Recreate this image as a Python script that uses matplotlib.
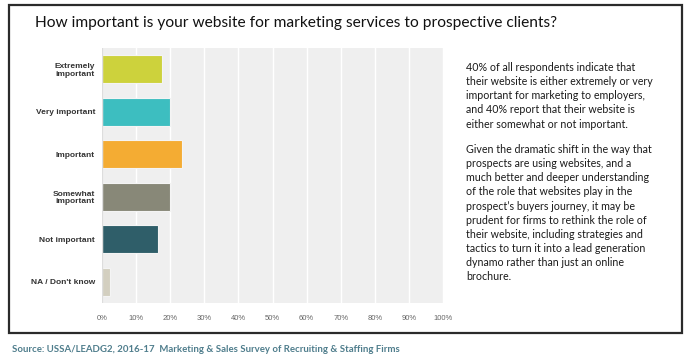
import numpy as np
import matplotlib.pyplot as plt
from matplotlib.patches import Rectangle

# survey answers, top to bottom
categories = ["Extremely\nimportant", "Very important", "Important",
              "Somewhat\nimportant", "Not important", "NA / Don't know"]
shares = [17.7, 20.0, 23.5, 20.0, 16.5, 2.3]
bar_colors = ["#cdd23c", "#3dbec0", "#f4ac33", "#888878", "#2f5e69", "#d3cfc0"]
tick_pos = list(range(0, 101, 10))
tick_labels = [f"{t}%" for t in tick_pos]

title = "How important is your website for marketing services to prospective clients?"
para1 = ("40% of all respondents indicate that\n"
         "their website is either extremely or very\n"
         "important for marketing to employers,\n"
         "and 40% report that their website is\n"
         "either somewhat or not important.")
para2 = ("Given the dramatic shift in the way that\n"
         "prospects are using websites, and a\n"
         "much better and deeper understanding\n"
         "of the role that websites play in the\n"
         "prospect\u2019s buyers journey, it may be\n"
         "prudent for firms to rethink the role of\n"
         "their website, including strategies and\n"
         "tactics to turn it into a lead generation\n"
         "dynamo rather than just an online\n"
         "brochure.")
source = "Source: USSA/LEADG2, 2016-17  Marketing & Sales Survey of Recruiting & Staffing Firms"

W, H = 693, 359
fig = plt.figure(figsize=(W / 100, H / 100), dpi=100)
fig.patch.set_facecolor("white")

# outer frame
fig.patches.append(Rectangle((9 / W, 1 - 333 / H), (682 - 9) / W, (333 - 5) / H,
                             transform=fig.transFigure, fill=False,
                             edgecolor="#2b2b2b", linewidth=1.6))

ax = fig.add_axes([102 / W, 1 - 303 / H, (443 - 102) / W, (303 - 48) / H])
ax.set_facecolor("#efefef")
y = np.arange(len(categories))
ax.barh(y, shares, height=0.66, color=bar_colors, edgecolor="#f4f4f4", linewidth=0.8, zorder=3)
ax.set_xlim(0, 100)
ax.set_ylim(len(categories) - 0.5, -0.5)
ax.set_xticks(tick_pos)
ax.set_xticklabels(tick_labels, fontsize=5.5, color="#666666", family="Liberation Sans")
ax.set_yticks(y)
ax.set_yticklabels(categories, fontsize=6, fontweight="bold", color="#333333",
                   family="Liberation Sans", linespacing=1.1)
ax.tick_params(axis="x", length=0, pad=9)
ax.tick_params(axis="y", length=0, pad=5)
ax.grid(axis="x", color="white", linewidth=1.0, zorder=0)
for s in ax.spines.values():
    s.set_visible(False)
ax.axvline(0, color="#dddddd", linewidth=1.0, zorder=4)

fig.text(35 / W, 1 - 23 / H, title, fontsize=11.2, family="Lato", color="#111111",
         va="center", ha="left")
fig.text(466 / W, 1 - 62 / H, para1, fontsize=7.7, family="Lato", color="#1a1a1a",
         va="top", ha="left", linespacing=1.35)
fig.text(466 / W, 1 - 144 / H, para2, fontsize=7.7, family="Lato", color="#1a1a1a",
         va="top", ha="left", linespacing=1.35)
fig.text(12 / W, 1 - 349 / H, source, fontsize=6.9, family="Lato", fontweight="bold",
         color="#4f7d8c", va="center", ha="left")

fig.savefig("out.png", dpi=100)
